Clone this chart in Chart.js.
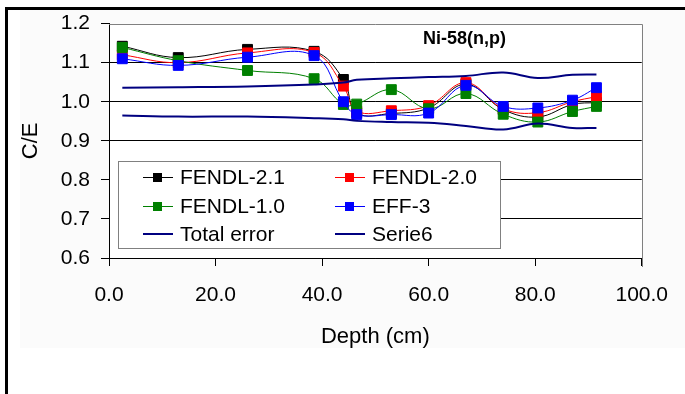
<!DOCTYPE html>
<html>
<head>
<meta charset="utf-8">
<script src="https://cdn.jsdelivr.net/npm/chart.js@4.4.1/dist/chart.umd.min.js"></script>
<style>
  html, body { margin: 0; padding: 0; background: #fff; }
  #wrap { position: relative; width: 685px; height: 394px; overflow: hidden;
          font-family: "Liberation Sans", Arial, sans-serif; }
  #frame { position: absolute; left: 5px; top: 7px; width: 720px; height: 420px;
           border-left: 3px solid #000; border-top: 3px solid #000; pointer-events: none; }
  #legend { position: absolute; left: 118px; top: 161px; width: 381px; height: 86px;
            border: 1px solid #808080; background: #fff; box-shadow: -8px 0 0 0 #fff; }
  .item { position: absolute; height: 24px; }
  .item .ln { position: absolute; left: 0; width: 30px; }
  .item .mk { position: absolute; width: 9px; height: 9px; left: 10px; top: 7px; }
  .item .tx { position: absolute; left: 37px; top: 0; line-height: 24px; font-size: 21px;
              color: #000; white-space: nowrap; }
</style>
</head>
<body>
<div id="wrap">
  <canvas id="chart" width="685" height="394"></canvas>
  <div id="legend"></div>
  <div id="frame"></div>
</div>
<script>
const depth = [2.5, 13, 26, 38.5, 44, 46.5, 53, 60, 67, 74, 80.5, 87, 91.5];

const fendl21 = [1.142, 1.113, 1.134, 1.129, 1.057, 0.972, 0.970, 0.984, 1.045, 0.980, 0.961, 0.993, 0.998];
const fendl20 = [1.120, 1.100, 1.125, 1.126, 1.040, 0.976, 0.977, 0.990, 1.049, 0.982, 0.972, 1.000, 1.013];
const fendl10 = [1.139, 1.105, 1.080, 1.059, 0.993, 0.994, 1.031, 0.982, 1.021, 0.968, 0.948, 0.975, 0.988];
const eff3    = [1.110, 1.093, 1.114, 1.118, 1.000, 0.967, 0.967, 0.971, 1.042, 0.988, 0.984, 1.004, 1.036];
const errUpper = [1.036, 1.037, 1.039, 1.044, 1.049, 1.056, 1.060, 1.063, 1.066, 1.075, 1.061, 1.069, 1.070];
const errLower = [0.965, 0.962, 0.962, 0.958, 0.955, 0.951, 0.948, 0.946, 0.938, 0.929, 0.944, 0.933, 0.933];

const xTicks = [0, 20, 40, 60, 80, 100];
const yMin = 0.6, yMax = 1.2, yStep = 0.1;
const plotTitle = 'Ni-58(n,p)';

const FONT = '"Liberation Sans", Arial, sans-serif';

function pts(ys) {
  return depth.map((x, i) => ({ x: x, y: ys[i] }));
}

// legend order matches the original (row by row, two columns)
const series = [
  { label: 'FENDL-2.1', data: fendl21, color: '#000000', marker: true, order: 4 },
  { label: 'FENDL-2.0', data: fendl20, color: '#ff0000', marker: true, order: 3 },
  { label: 'FENDL-1.0', data: fendl10, color: '#008000', marker: true, order: 2 },
  { label: 'EFF-3',     data: eff3,    color: '#0000ff', marker: true, order: 1 },
  { label: 'Total error', data: errUpper, color: '#000080', marker: false, order: 0 },
  { label: 'Serie6',      data: errLower, color: '#000080', marker: false, order: 0 }
];

const datasets = series.map(s => ({
  label: s.label,
  data: pts(s.data),
  borderColor: s.color,
  backgroundColor: s.color,
  borderWidth: s.marker ? 1 : 2,
  pointStyle: 'rect',
  pointRadius: s.marker ? 7 : 0,
  pointBorderWidth: 1,
  tension: 0.4,
  fill: false,
  order: s.order
}));

// white plot area on a faint grey chart background
const backdrop = {
  id: 'backdrop',
  beforeDraw(chart) {
    const { ctx, chartArea: a } = chart;
    ctx.save();
    ctx.fillStyle = '#fbfbfb';
    ctx.fillRect(20, 10, 665, 338);
    ctx.fillStyle = '#ffffff';
    ctx.fillRect(a.left, a.top, a.right - a.left, a.bottom - a.top);
    ctx.restore();
  },
  beforeDatasetsDraw(chart) {
    const { ctx, chartArea: a } = chart;
    ctx.save();
    ctx.strokeStyle = '#808080';
    ctx.lineWidth = 1;
    ctx.beginPath();
    ctx.moveTo(a.left, Math.round(a.top) + 0.5);
    ctx.lineTo(Math.round(a.right) + 0.5, Math.round(a.top) + 0.5);
    ctx.lineTo(Math.round(a.right) + 0.5, a.bottom + 9);
    ctx.stroke();
    ctx.fillStyle = '#000';
    ctx.font = 'bold 18px ' + FONT;
    ctx.textBaseline = 'alphabetic';
    ctx.fillText(plotTitle, 423, 44);
    ctx.restore();
  }
};

Chart.defaults.font.family = FONT;
Chart.defaults.color = '#000';

const chart = new Chart(document.getElementById('chart'), {
  type: 'line',
  data: { datasets: datasets },
  options: {
    responsive: false,
    devicePixelRatio: 1,
    animation: false,
    layout: { padding: { top: 20, right: 32, bottom: 0, left: 0 } },
    plugins: { legend: { display: false }, tooltip: { enabled: false } },
    scales: {
      x: {
        type: 'linear',
        min: 0, max: 100,
        afterFit: s => { s.height = 136; },
        afterBuildTicks: s => { s.ticks = xTicks.map(v => ({ value: v })); },
        ticks: { padding: 17, font: { size: 21 }, color: '#000',
                 callback: v => v.toFixed(1), maxRotation: 0 },
        grid: { drawOnChartArea: false, tickLength: 8, tickColor: '#000', color: '#000' },
        border: { color: '#000', width: 1 },
        title: { display: true, text: 'Depth (cm)', font: { size: 22 }, color: '#000',
                 padding: { top: 0, bottom: 44 } }
      },
      y: {
        min: yMin, max: yMax,
        afterFit: s => { s.width = 109; },
        ticks: { stepSize: yStep, padding: 11, font: { size: 21 }, color: '#000',
                 callback: v => v.toFixed(1) },
        grid: {
          tickLength: 8, tickColor: '#000', lineWidth: 1,
          color: c => Math.abs(c.tick.value - yMax) < 1e-6 ? 'rgba(0,0,0,0)' : '#000'
        },
        border: { color: '#000', width: 1 },
        title: { display: true, text: 'C/E', font: { size: 22 }, color: '#000',
                 padding: { top: 18, bottom: 0 } }
      }
    }
  },
  plugins: [backdrop]
});

// legend built from the same series list
const legend = document.getElementById('legend');
const rowY = [3, 32, 60];
series.forEach((s, i) => {
  const col = i % 2, row = Math.floor(i / 2);
  const item = document.createElement('div');
  item.className = 'item';
  item.style.left = (24 + col * 192) + 'px';
  item.style.top = rowY[row] + 'px';
  const ln = document.createElement('div');
  ln.className = 'ln';
  const w = s.marker ? 1 : 2;
  ln.style.top = (12 - Math.floor(w / 2)) + 'px';
  ln.style.borderTop = w + 'px solid ' + s.color;
  item.appendChild(ln);
  if (s.marker) {
    const mk = document.createElement('div');
    mk.className = 'mk';
    mk.style.background = s.color;
    mk.style.top = '8px';
    item.appendChild(mk);
  }
  const tx = document.createElement('div');
  tx.className = 'tx';
  tx.textContent = s.label;
  item.appendChild(tx);
  legend.appendChild(item);
});
</script>
</body>
</html>
